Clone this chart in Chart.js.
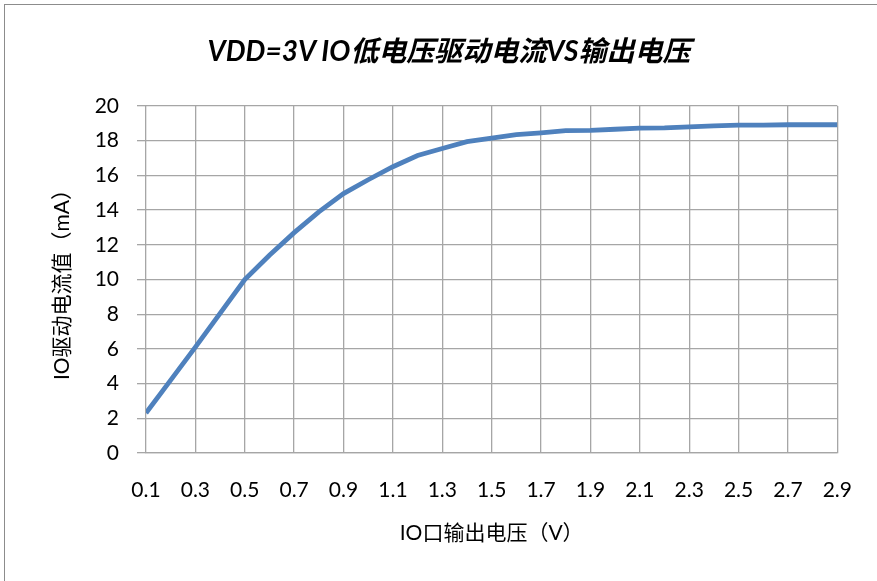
<!DOCTYPE html>
<html><head><meta charset="utf-8">
<script src="https://cdn.jsdelivr.net/npm/chart.js@4"></script>
<style>
html,body{margin:0;padding:0;background:#fff;overflow:hidden}
#wrap{position:absolute;left:0;top:0;width:877px;height:581px}
#frame{position:absolute;left:4px;top:4px;width:900px;height:600px;border:1.5px solid #8c8c8c;box-sizing:border-box;pointer-events:none}
#title{position:absolute;left:0;width:898px;top:33px;text-align:center;font:italic bold 28px Lato,'Noto Sans CJK SC',sans-serif;color:#000;line-height:34px;white-space:nowrap}
</style></head>
<body>
<div id="wrap"><canvas id="c" width="877" height="581"></canvas></div>
<div id="frame"></div>
<div id="title"></div>
<script>
const voltages = [0.1,0.2,0.3,0.4,0.5,0.6,0.7,0.8,0.9,1.0,1.1,1.2,1.3,1.4,1.5,1.6,1.7,1.8,1.9,2.0,2.1,2.2,2.3,2.4,2.5,2.6,2.7,2.8,2.9];
const currents = [2.3,4.2,6.1,8.05,10.0,11.4,12.7,13.9,14.95,15.75,16.5,17.15,17.55,17.95,18.15,18.35,18.45,18.58,18.6,18.66,18.72,18.74,18.8,18.85,18.9,18.9,18.92,18.92,18.92];
const xTickLabels = ['0.1','0.3','0.5','0.7','0.9','1.1','1.3','1.5','1.7','1.9','2.1','2.3','2.5','2.7','2.9'];
const yTicks = [0,2,4,6,8,10,12,14,16,18,20];
const titleText = 'VDD=3V IO低电压驱动电流VS输出电压';
const xTitle = 'IO口输出电压（V）';
const yTitle = 'IO驱动电流值（mA）';

document.getElementById('title').textContent = titleText;
const fam = "Lato, 'Noto Sans CJK SC', sans-serif";
const gridColor = '#a6a6a6';
new Chart(document.getElementById('c'), {
  type: 'line',
  data: {
    datasets: [{
      data: voltages.map((v,i)=>({x:v,y:currents[i]})),
      borderColor: '#4f81bd',
      borderWidth: 4.8,
      pointRadius: 0,
      tension: 0,
      fill: false
    }]
  },
  options: {
    responsive: false,
    animation: false,
    layout: { padding: { left: 0, right: 31, top: 106, bottom: 0 } },
    plugins: {
      legend: { display: false },
      tooltip: { enabled: false },
      title: { display: false }
    },
    scales: {
      x: {
        type: 'linear',
        min: 0.1, max: 2.9,
        afterBuildTicks: s => { s.ticks = xTickLabels.map(t => ({ value: parseFloat(t) })); },
        afterFit: s => { s.height = 128; },
        ticks: {
          callback: (v) => xTickLabels.find(t => Math.abs(parseFloat(t) - v) < 1e-6) || '',
          color: '#000', font: { family: fam, size: 21 }, padding: 25, maxRotation: 0, autoSkip: false
        },
        grid: { color: gridColor, lineWidth: 1.3, drawTicks: false },
        border: { display: true, color: gridColor, width: 1.3 },
        title: { display: true, text: xTitle, color: '#000', font: { family: fam, size: 21 }, padding: { top: 0, bottom: 35 } }
      },
      y: {
        min: 0, max: 20,
        afterBuildTicks: s => { s.ticks = yTicks.map(v => ({ value: v })); },
        afterFit: s => { s.width = 146; },
        ticks: { color: '#000', font: { family: fam, size: 21 }, padding: 18 },
        grid: { color: gridColor, lineWidth: 1.3, tickLength: 9 },
        border: { display: false },
        title: { display: true, text: yTitle, color: '#000', font: { family: fam, size: 21 }, padding: { top: 50, bottom: 0 } }
      }
    }
  }
});
</script>
</body></html>
